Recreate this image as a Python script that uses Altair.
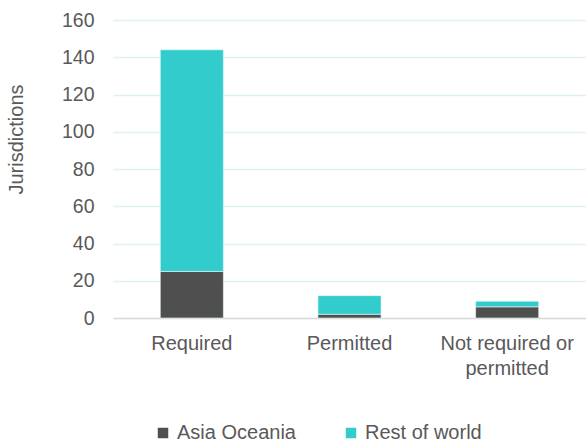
import altair as alt
import pandas as pd

categories = ["Required", "Permitted", "Not required or permitted"]
asia_oceania = [25, 2, 6]
rest_of_world = [119, 10, 3]
series_names = ["Asia Oceania", "Rest of world"]
series_colors = ["#4f4f4f", "#33cccc"]
y_ticks = [0, 20, 40, 60, 80, 100, 120, 140, 160]

rows = []
for i, c in enumerate(categories):
    rows.append({"category": c, "series": series_names[0], "value": asia_oceania[i], "ord": 0})
    rows.append({"category": c, "series": series_names[1], "value": rest_of_world[i], "ord": 1})
df = pd.DataFrame(rows)

FONT = "Liberation Sans"
TXT = "#595959"

chart = alt.Chart(df).mark_bar(stroke="#e8f8f8", strokeWidth=0.6).encode(
    x=alt.X("category:N", sort=categories, title=None,
            scale=alt.Scale(paddingInner=0.6, paddingOuter=0.3),
            axis=alt.Axis(labelAngle=0, ticks=False, domainColor="#d9d9d9", domainWidth=1.5,
                          labelPadding=15, labelFontSize=20, labelColor=TXT, labelFont=FONT,
                          labelLineHeight=25,
                          labelExpr="datum.value == 'Not required or permitted' ? ['Not required or', 'permitted'] : datum.value")),
    y=alt.Y("value:Q", stack="zero", title="Jurisdictions",
            scale=alt.Scale(domain=[0, 160], nice=False),
            axis=alt.Axis(values=y_ticks, ticks=False, domain=False, gridColor="#dff2ea", gridWidth=1.3,
                          labelPadding=19, labelFontSize=19.5, labelColor=TXT, labelFont=FONT,
                          titleFontSize=20, titleColor=TXT, titleFont=FONT, titleFontWeight="normal",
                          titleX=-97, titleY=119, titleBaseline="middle", titleAlign="center", titleAngle=270)),
    color=alt.Color("series:N", sort=series_names,
                    scale=alt.Scale(domain=series_names, range=series_colors),
                    legend=alt.Legend(title=None, orient="none", legendX=40, legendY=403,
                                      direction="horizontal", columns=2, columnPadding=45,
                                      symbolType="square", symbolSize=110, symbolStrokeWidth=0,
                                      labelFontSize=20, labelColor=TXT, labelFont=FONT, labelOffset=4)),
    order=alt.Order("ord:Q", sort="ascending"),
).properties(
    width=473, height=298,
    padding={"left": 113, "top": 20, "right": 0, "bottom": 126},
    autosize=alt.AutoSizeParams(type="none"),
).configure_view(stroke=None)

chart.save("out.html", embed_options={"renderer": "svg", "actions": False})
